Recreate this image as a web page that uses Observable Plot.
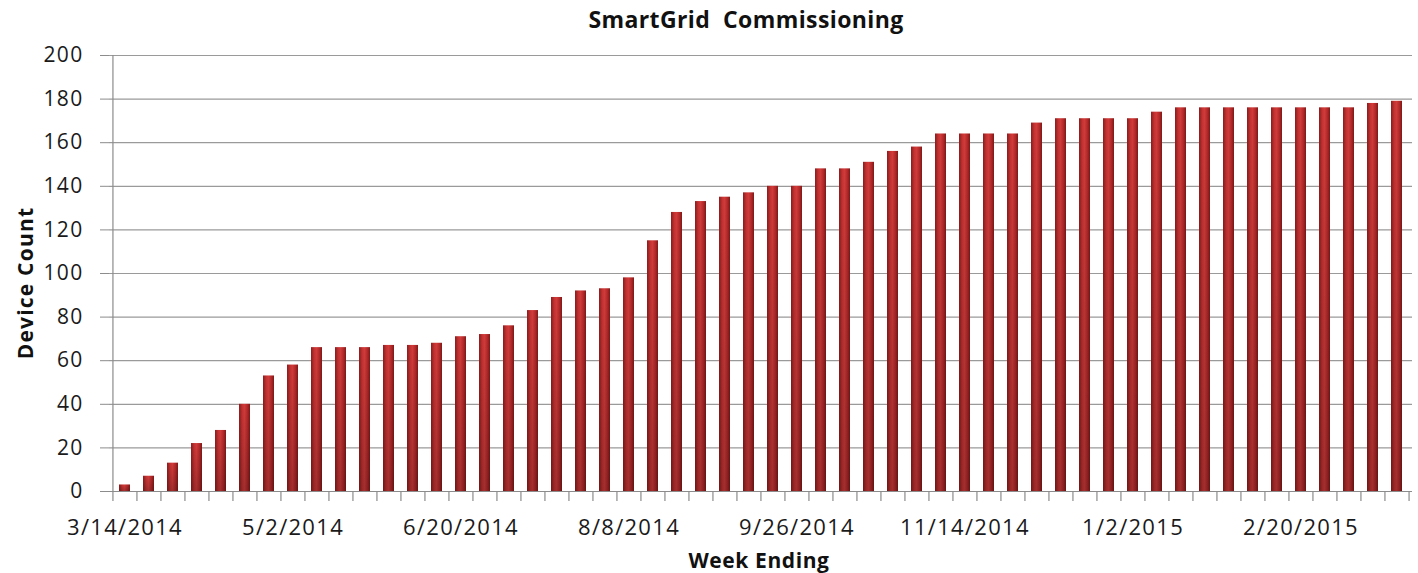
<!DOCTYPE html>
<html>
<head>
<meta charset="utf-8">
<script src="https://cdn.jsdelivr.net/npm/d3@7"></script>
<script src="https://cdn.jsdelivr.net/npm/@observablehq/plot@0.6"></script>
<style>
  html, body { margin: 0; padding: 0; background: #fff; }
  body { width: 1418px; height: 573px; overflow: hidden; position: relative; font-family: "Open Sans", sans-serif; }
  #title { position: absolute; left: 0; top: 3px; width: 1492px; text-align: center; font-weight: bold; font-size: 23px; color: #111; letter-spacing: 0.4px; z-index: 2; }
  #ylab { position: absolute; left: 25px; top: 283px; transform: translate(-50%, -50%) rotate(-90deg); font-weight: bold; font-size: 21px; white-space: nowrap; color: #111; z-index: 2; letter-spacing: 1.2px; }
  #xlab { position: absolute; left: 759px; top: 560px; transform: translate(-50%, -50%); font-weight: bold; font-size: 21px; white-space: nowrap; color: #111; z-index: 2; letter-spacing: 0.6px; }
  #chart { position: absolute; left: 0; top: 40px; z-index: 1; }
  #chart svg text { letter-spacing: 1.3px; }
</style>
</head>
<body>
<div id="chart"></div>
<div id="title">SmartGrid&nbsp; Commissioning</div>
<div id="ylab">Device Count</div>
<div id="xlab">Week Ending</div>
<script>
// Week-ending dates (categories)
const weeks = [
  "3/14/2014","3/21/2014","3/28/2014","4/4/2014","4/11/2014","4/18/2014","4/25/2014",
  "5/2/2014","5/9/2014","5/16/2014","5/23/2014","5/30/2014","6/6/2014","6/13/2014",
  "6/20/2014","6/27/2014","7/4/2014","7/11/2014","7/18/2014","7/25/2014","8/1/2014",
  "8/8/2014","8/15/2014","8/22/2014","8/29/2014","9/5/2014","9/12/2014","9/19/2014",
  "9/26/2014","10/3/2014","10/10/2014","10/17/2014","10/24/2014","10/31/2014","11/7/2014",
  "11/14/2014","11/21/2014","11/28/2014","12/5/2014","12/12/2014","12/19/2014","12/26/2014",
  "1/2/2015","1/9/2015","1/16/2015","1/23/2015","1/30/2015","2/6/2015","2/13/2015",
  "2/20/2015","2/27/2015","3/6/2015","3/13/2015","3/20/2015"
];
// Device count per week
const deviceCount = [
  3, 7, 13, 22, 28, 40, 53, 58, 66, 66,
  66, 67, 67, 68, 71, 72, 76, 83, 89, 92,
  93, 98, 115, 128, 133, 135, 137, 140, 140, 148,
  148, 151, 156, 158, 164, 164, 164, 164, 169, 171,
  171, 171, 171, 174, 176, 176, 176, 176, 176, 176,
  176, 176, 178, 179
];
// Tick labels
const xTickLabels = ["3/14/2014","5/2/2014","6/20/2014","8/8/2014","9/26/2014","11/14/2014","1/2/2015","2/20/2015"];
const yTicks = [0, 20, 40, 60, 80, 100, 120, 140, 160, 180, 200];

const data = weeks.map((w, i) => ({week: w, value: deviceCount[i]}));

const width = 1418, height = 533;
const marginLeft = 109, marginRight = 6, marginTop = 15, marginBottom = 82;
const step = (width - marginLeft - marginRight) / weeks.length;
const tickLenUnits = 10 * 200 / (height - marginTop - marginBottom);

const defs = () => {
  const ns = "http://www.w3.org/2000/svg";
  const d = document.createElementNS(ns, "defs");
  d.innerHTML = `
    <linearGradient id="barGrad" x1="0" x2="1" y1="0" y2="0">
      <stop offset="0" stop-color="#8a1c1c"/>
      <stop offset="0.3" stop-color="#c53232"/>
      <stop offset="0.5" stop-color="#d03b3a"/>
      <stop offset="0.75" stop-color="#b52a2a"/>
      <stop offset="1" stop-color="#7f1818"/>
    </linearGradient>
    <linearGradient id="shade" x1="0" x2="0" y1="0" y2="1">
      <stop offset="0" stop-color="#000" stop-opacity="0"/>
      <stop offset="1" stop-color="#000" stop-opacity="0.22"/>
    </linearGradient>`;
  return d;
};

const chart = Plot.plot({
  width, height, marginLeft, marginRight, marginTop, marginBottom,
  style: {fontFamily: "Open Sans, sans-serif", background: "transparent", color: "#1a1a1a"},
  x: {type: "band", domain: weeks, paddingInner: 0.56, paddingOuter: 0.28, label: null},
  y: {domain: [0, 200], label: null},
  marks: [
    defs,
    Plot.gridY(yTicks, {stroke: "#9a9a9a", strokeOpacity: 1, strokeWidth: 1.2}),
    Plot.barY(data, {x: "week", y: "value", fill: "url(#barGrad)"}),
    Plot.barY(data, {x: "week", y: "value", fill: "url(#shade)"}),
    Plot.ruleY([0], {stroke: "#8c8c8c", strokeWidth: 1.2}),
    Plot.ruleX([weeks[0]], {dx: -step / 2, y1: 0, y2: 200, stroke: "#8c8c8c", strokeWidth: 1.2}),
    Plot.ruleX(weeks, {x: d => d, dx: -step / 2, y1: 0, y2: -tickLenUnits, stroke: "#8c8c8c", strokeWidth: 1.2}),
    Plot.ruleX([weeks[weeks.length - 1]], {dx: step / 2, y1: 0, y2: -tickLenUnits, stroke: "#8c8c8c", strokeWidth: 1.2}),
    Plot.axisY({ticks: yTicks, tickSize: 9, tickPadding: 17, stroke: "#8c8c8c", fill: "#1a1a1a", fontSize: 21, label: null}),
    Plot.axisX({ticks: xTickLabels, tickSize: 0, tickPadding: 28, fill: "#1a1a1a", fontSize: 22, label: null})
  ]
});
document.getElementById("chart").appendChild(chart);
</script>
</body>
</html>
